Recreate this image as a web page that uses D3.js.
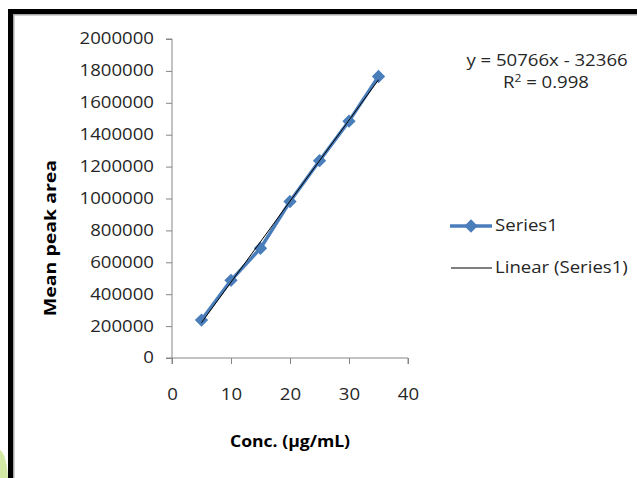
<!DOCTYPE html>
<html>
<head>
<meta charset="utf-8">
<script src="https://cdn.jsdelivr.net/npm/d3@7"></script>
<style>
  body { margin: 0; background: #fff; }
  svg { display: block; font-family: "Open Sans", "Liberation Sans", sans-serif; }
</style>
</head>
<body>
<svg width="637" height="478"></svg>
<script>
var conc = [5, 10, 15, 20, 25, 30, 35];
var peakArea = [238000, 487000, 688000, 981000, 1237000, 1485000, 1765000];
var xTicks = [0, 10, 20, 30, 40];
var yTicks = [0, 200000, 400000, 600000, 800000, 1000000, 1200000, 1400000, 1600000, 1800000, 2000000];
var slope = 50766, intercept = -32366;
var eqLabels = ["y = 50766x - 32366", "R² = 0.998"];
var legendLabels = ["Series1", "Linear (Series1)"];

var svg = d3.select("svg");

// the slide text is wide, so stretch it sideways
var stretch = function (sel, k) {
    sel.each(function () {
        var t = d3.select(this);
        var tx = +t.attr("x") || 0, ty = +t.attr("y") || 0;
        var old = t.attr("transform") || "";
        t.attr("x", 0).attr("y", 0)
            .attr("transform", old + " translate(" + tx + "," + ty + ") scale(" + k + ",1)");
    });
};

// slide frame
svg.append("path")
    .attr("d", "M0,450 C4,452 7,462 8,478 L0,478 Z")
    .attr("fill", "#d3e8a4");
svg.append("rect").attr("x", 8).attr("y", 9).attr("width", 640).attr("height", 5).attr("fill", "#000");
svg.append("rect").attr("x", 8).attr("y", 9).attr("width", 5).attr("height", 480).attr("fill", "#000");
svg.append("rect").attr("x", 13).attr("y", 14).attr("width", 640).attr("height", 1.5).attr("fill", "#a6a6a6");
svg.append("rect").attr("x", 13).attr("y", 14).attr("width", 1.5).attr("height", 480).attr("fill", "#a6a6a6");

var x = d3.scaleLinear().domain([0, 40]).range([172, 408]);
var y = d3.scaleLinear().domain([0, 2000000]).range([358, 39]);

var axisColor = "#868686";

var gx = svg.append("g")
    .attr("transform", "translate(0,358)")
    .call(d3.axisBottom(x).tickValues(xTicks).tickSize(6).tickPadding(25).tickFormat(d3.format("d")));
var gy = svg.append("g")
    .attr("transform", "translate(172,0)")
    .call(d3.axisLeft(y).tickValues(yTicks).tickSize(6).tickPadding(12).tickFormat(d3.format("d")));

[gx, gy].forEach(function (g) {
    g.select(".domain").attr("stroke", axisColor).attr("stroke-width", 1);
    g.selectAll(".tick line").attr("stroke", axisColor);
    g.selectAll(".tick text")
        .attr("fill", "#262626")
        .style("font-size", "15.5px")
        .style("font-family", "'Open Sans', sans-serif");
    stretch(g.selectAll(".tick text"), 1.2);
});
gx.select(".domain").attr("d", "M172,6V0H408V6");
gy.select(".domain").attr("d", "M-6,39H0V358H-6");

// series line
var line = d3.line()
    .x(function (d, i) { return x(conc[i]); })
    .y(function (d) { return y(d); });

svg.append("path")
    .datum(peakArea)
    .attr("d", line)
    .attr("fill", "none")
    .attr("stroke", "#4a7ebb")
    .attr("stroke-width", 3.5)
    .attr("stroke-linejoin", "round");

var diamond = d3.symbol().type(d3.symbolDiamond2).size(80);
svg.append("g").selectAll("path")
    .data(peakArea)
    .join("path")
    .attr("transform", function (d, i) { return "translate(" + x(conc[i]) + "," + y(d) + ")"; })
    .attr("d", diamond)
    .attr("fill", "#4a7ebb")
    .attr("stroke", "#4a7ebb")
    .attr("stroke-width", 1.5);

// trendline
var x0 = d3.min(conc), x1 = d3.max(conc);
svg.append("line")
    .attr("x1", x(x0)).attr("y1", y(slope * x0 + intercept))
    .attr("x2", x(x1)).attr("y2", y(slope * x1 + intercept))
    .attr("stroke", "#000")
    .attr("stroke-width", 1);

// equation
var eq1 = svg.append("text")
    .attr("x", 547).attr("y", 66)
    .attr("text-anchor", "middle")
    .attr("fill", "#262626")
    .style("font-size", "15.5px")
    .text(eqLabels[0]);
var eq2 = svg.append("text")
    .attr("x", 546).attr("y", 88)
    .attr("text-anchor", "middle")
    .attr("fill", "#262626")
    .style("font-size", "15.5px")
    .html("R<tspan dy='-6' font-size='10px'>2</tspan><tspan dy='6'> = 0.998</tspan>");
stretch(eq1, 1.2);
stretch(eq2, 1.2);

// legend
var leg = svg.append("g");
leg.append("line").attr("x1", 450).attr("x2", 492).attr("y1", 226).attr("y2", 226)
    .attr("stroke", "#4a7ebb").attr("stroke-width", 3.5);
leg.append("path").attr("transform", "translate(471,226)").attr("d", diamond)
    .attr("fill", "#4a7ebb").attr("stroke", "#4a7ebb").attr("stroke-width", 1.5);
leg.append("line").attr("x1", 451).attr("x2", 492).attr("y1", 268).attr("y2", 268)
    .attr("stroke", "#000").attr("stroke-width", 1);
var legText = leg.selectAll("text")
    .data(legendLabels)
    .join("text")
    .attr("x", 495)
    .attr("y", function (d, i) { return 231 + i * 42; })
    .attr("fill", "#262626")
    .style("font-size", "15.5px")
    .text(function (d) { return d; });
stretch(legText, 1.2);

// axis titles
var xTitle = svg.append("text")
    .attr("x", 290).attr("y", 447)
    .attr("text-anchor", "middle")
    .attr("fill", "#000")
    .style("font-size", "16px")
    .style("font-weight", "bold")
    .text("Conc. (µg/mL)");
stretch(xTitle, 1.1);
svg.append("text")
    .attr("transform", "translate(56,238) rotate(-90) scale(1.22,1)")
    .attr("text-anchor", "middle")
    .attr("fill", "#000")
    .style("font-size", "16px")
    .style("font-weight", "bold")
    .text("Mean peak area");
</script>
</body>
</html>
